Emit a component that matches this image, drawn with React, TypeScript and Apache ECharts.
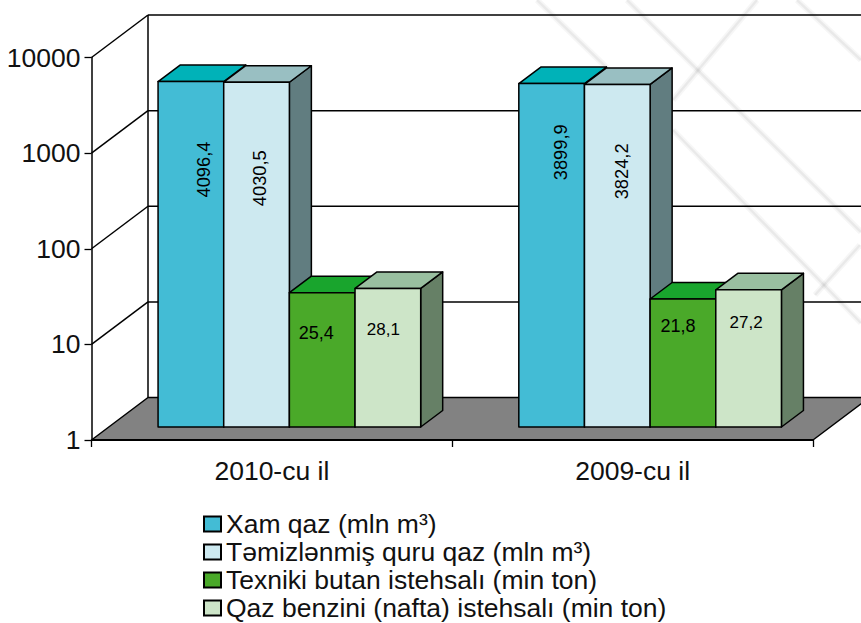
import React, { useEffect, useRef } from "react";
import * as echarts from "echarts";

const categories = ["2010-cu il", "2009-cu il"];
const yTicks = [1, 10, 100, 1000, 10000];
const seriesNames = [
  "Xam qaz (mln m³)",
  "Təmizlənmiş quru qaz (mln m³)",
  "Texniki butan istehsalı (min ton)",
  "Qaz benzini (nafta) istehsalı (min ton)",
];
const xamQaz = [4096.4, 3899.9];
const temizQaz = [4030.5, 3824.2];
const butan = [25.4, 21.8];
const benzin = [28.1, 27.2];
const allValues = [xamQaz, temizQaz, butan, benzin];

const faceColors = [
  { front: "#43BCD5", top: "#00B2B8", side: "#617D80" },
  { front: "#CDE9F0", top: "#99BFC2", side: "#617D80" },
  { front: "#4AA929", top: "#19A52D", side: "#668066" },
  { front: "#CDE5C8", top: "#99BFA0", side: "#668066" },
];
// label offset from the centre of a bar's top edge: [series][category] = [dx, dy]
const labelOffsets = [
  [[13, 88], [8.5, 68.7]],
  [[3, 96], [4, 87]],
  [[-6, 40], [-5, 27]],
  [[-4.5, 40.6], [-2.5, 33]],
];
const labelSizes = [18.3, 18.3, 18, 17];

const FONT = '"Liberation Sans", Arial, sans-serif';
const INK = "#000";
const WALL = { dx: 56.5, dy: 42.5 };
const PLANE = { dx: 17.5, dy: 13 };
const BAR = { dx: 22, dy: 16.5 };

const watermark = [
  [537, 0, 640, 100],
  [627, 0, 861, 232],
  [797, 0, 861, 60],
  [757, 0, 673, 100],
  [673, 130, 861, 323],
  [860, 245, 815, 295],
];

const line = (x1: number, y1: number, x2: number, y2: number, lw = 1.5) => ({
  type: "line",
  shape: { x1, y1, x2, y2 },
  style: { stroke: INK, lineWidth: lw, fill: "none" },
});
const poly = (points: number[][], fill: string, lw = 1.5) => ({
  type: "polygon",
  shape: { points },
  style: { fill, stroke: INK, lineWidth: lw, lineJoin: "round" },
});

function renderFrame(_: any, api: any) {
  const tick = api.value(1);
  const [x0, y] = api.coord([0, tick]);
  const band = api.size([1, 0])[0];
  const xL = x0 - band / 2;
  const xR = xL + band * categories.length;
  const children: any[] = [];
  if (tick === yTicks[0]) {
    children.push(
      poly(
        [
          [xL, y],
          [xR, y],
          [xR + WALL.dx, y - WALL.dy],
          [xL + WALL.dx, y - WALL.dy],
        ],
        "#828282",
      ),
    );
    children.push(line(xL, y, xR, y, 2));
  } else {
    children.push(line(xL + WALL.dx, y - WALL.dy, xR + WALL.dx, y - WALL.dy));
    children.push(line(xL, y, xL + WALL.dx, y - WALL.dy));
  }
  if (tick === yTicks[yTicks.length - 1]) {
    const [, yBase] = api.coord([0, yTicks[0]]);
    children.push(line(xL + WALL.dx, y - WALL.dy, xL + WALL.dx, yBase - WALL.dy));
  }
  return { type: "group", children };
}

const makeBarRenderer = (s: number) => (params: any, api: any) => {
  const cat = params.dataIndex;
  const value = api.value(1);
  const [cx, yTop0] = api.coord([cat, value]);
  const [, yBase0] = api.coord([cat, yTicks[0]]);
  const band = api.size([1, 0])[0];
  const w = band * 0.182;
  const x1 = cx + PLANE.dx + (s - 2) * w;
  const x2 = x1 + w;
  const top = yTop0 - PLANE.dy;
  const base = yBase0 - PLANE.dy;
  const c = faceColors[s];
  const [ox, oy] = labelOffsets[s][cat];
  return {
    type: "group",
    children: [
      poly(
        [
          [x2, top],
          [x2 + BAR.dx, top - BAR.dy],
          [x2 + BAR.dx, base - BAR.dy],
          [x2, base],
        ],
        c.side,
      ),
      poly(
        [
          [x1, top],
          [x1 + BAR.dx, top - BAR.dy],
          [x2 + BAR.dx, top - BAR.dy],
          [x2, top],
        ],
        c.top,
      ),
      poly(
        [
          [x1, top],
          [x2, top],
          [x2, base],
          [x1, base],
        ],
        c.front,
      ),
      {
        type: "text",
        x: (x1 + x2) / 2 + ox,
        y: top + oy,
        rotation: s < 2 ? Math.PI / 2 : 0,
        z2: 10,
        style: {
          text: String(value).replace(".", ","),
          fill: INK,
          font: `${labelSizes[s]}px ${FONT}`,
          align: "center",
          verticalAlign: "middle",
        },
      },
    ],
  };
};

export default function App() {
  const ref = useRef<HTMLDivElement>(null);
  useEffect(() => {
    const chart = echarts.init(ref.current!, null, { renderer: "svg" });
    chart.setOption({
      animation: false,
      backgroundColor: "#fff",
      graphic: watermark.flatMap(([x1, y1, x2, y2]) => [
        {
          type: "line",
          silent: true,
          z: -10,
          shape: { x1, y1, x2, y2 },
          style: { stroke: "rgba(0,0,0,0.035)", lineWidth: 6 },
        },
        {
          type: "line",
          silent: true,
          z: -10,
          shape: { x1, y1, x2, y2 },
          style: { stroke: "rgba(0,0,0,0.05)", lineWidth: 2.5 },
        },
      ]),
      grid: { left: 91.5, top: 57.5, width: 721.5, height: 382.5, containLabel: false },
      legend: {
        data: seriesNames,
        orient: "vertical",
        left: 203,
        top: 510.5,
        width: 600,
        height: 112,
        padding: 0,
        itemWidth: 17,
        itemHeight: 15,
        itemGap: 1,
        icon: "rect",
        textStyle: { fontFamily: FONT, fontSize: 26.5, color: "#111" },
      },
      xAxis: {
        type: "category",
        data: categories,
        z: 10,
        axisLine: { show: false },
        axisTick: { show: true, length: 7, lineStyle: { color: INK, width: 1.3 } },
        axisLabel: { fontFamily: FONT, fontSize: 26.5, color: "#111", margin: 17 },
        splitLine: { show: false },
      },
      yAxis: {
        type: "log",
        logBase: 10,
        min: yTicks[0],
        max: yTicks[yTicks.length - 1],
        z: 10,
        axisLine: { show: true, lineStyle: { color: INK, width: 1.5 } },
        axisTick: { show: true, length: 7, lineStyle: { color: INK, width: 1.3 } },
        axisLabel: {
          fontFamily: FONT,
          fontSize: 26.5,
          color: "#111",
          margin: 11,
          formatter: (v: number) => String(Math.round(v)),
        },
        splitLine: { show: false },
        minorTick: { show: false },
      },
      series: [
        {
          name: "frame",
          type: "custom",
          silent: true,
          renderItem: renderFrame,
          encode: { x: 0, y: 1 },
          data: yTicks.map((t) => [0, t]),
        },
        ...allValues.map((vals, s) => ({
          name: seriesNames[s],
          type: "custom",
          renderItem: makeBarRenderer(s),
          encode: { x: 0, y: 1 },
          itemStyle: { color: faceColors[s].front, borderColor: INK, borderWidth: 1.3 },
          data: vals.map((v, i) => [i, v]),
        })),
      ],
    });
    return () => chart.dispose();
  }, []);
  return <div ref={ref} style={{ position: "fixed", left: 0, top: 0, width: 861, height: 623 }} />;
}
